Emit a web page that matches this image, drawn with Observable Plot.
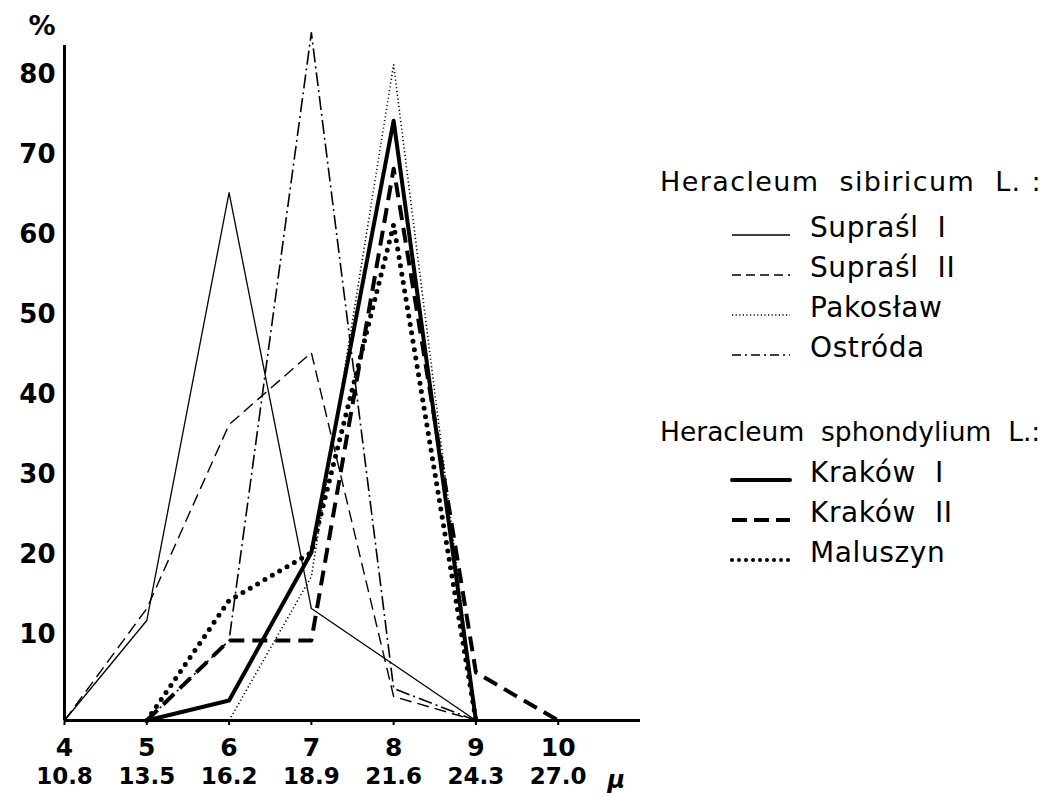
<!DOCTYPE html>
<html>
<head>
<meta charset="utf-8">
<script src="https://cdn.jsdelivr.net/npm/d3@7"></script>
<script src="https://cdn.jsdelivr.net/npm/@observablehq/plot@0.6"></script>
<style>
  html, body { margin: 0; padding: 0; background: #fff; }
  #wrap { position: relative; width: 1050px; height: 797px; overflow: hidden; }
  #legend { position: absolute; left: 0; top: 0; width: 1050px; height: 797px; pointer-events: none;
            font-family: "DejaVu Sans", sans-serif; color: #000; }
  .lg-head { position: absolute; left: 660px; font-size: 27px; letter-spacing: 1.4px; white-space: pre; line-height: 1; }
  .lg-head.tight { font-size: 26.5px; letter-spacing: 0; }
  .lg-item { position: absolute; left: 730px; height: 32px; display: flex; align-items: flex-end; white-space: pre; font-size: 28px; letter-spacing: 0.6px; line-height: 1; }
  .lg-item svg { margin-right: 18px; margin-bottom: 4px; }
</style>
</head>
<body>
<div id="wrap"><div id="legend"></div></div>
<script>
// ---- Data ----
const sizeClass = [4, 5, 6, 7, 8, 9, 10];
const micronLabels = ["10.8", "13.5", "16.2", "18.9", "21.6", "24.3", "27.0"];
const yTicks = [10, 20, 30, 40, 50, 60, 70, 80];

const supraslI_x = [4, 5, 6, 7, 8, 9];
const supraslI_y = [0, 12.5, 66, 14, 7, 0];
const supraslII_x = [4, 5, 6, 7, 8, 9];
const supraslII_y = [0, 14, 37, 46, 3, 0];
const pakoslaw_x = [6, 7, 8, 9];
const pakoslaw_y = [0, 18, 82, 0];
const ostroda_x = [5, 6, 7, 8, 9];
const ostroda_y = [0, 10, 86, 4, 0];
const krakowI_x = [5, 6, 7, 8, 9];
const krakowI_y = [0, 2.5, 21, 75, 0];
const krakowII_x = [5, 6, 7, 8, 9, 10];
const krakowII_y = [0, 10, 10, 69, 6, 0];
const maluszyn_x = [5, 6, 7, 8, 9];
const maluszyn_y = [0, 15, 21, 62, 0];

const group1 = "Heracleum  sibiricum  L. :";
const group2 = "Heracleum  sphondylium  L.:";

const seriesNames = ["Supraśl  I", "Supraśl  II", "Pakosław", "Ostróda", "Kraków  I", "Kraków  II", "Maluszyn"];
const seriesX = [supraslI_x, supraslII_x, pakoslaw_x, ostroda_x, krakowI_x, krakowII_x, maluszyn_x];
const seriesY = [supraslI_y, supraslII_y, pakoslaw_y, ostroda_y, krakowI_y, krakowII_y, maluszyn_y];

// line styles
const styles = [
  {strokeWidth: 1.3, strokeDasharray: null, strokeLinecap: "butt", legendDash: null},
  {strokeWidth: 1.4, strokeDasharray: "12,6", strokeLinecap: "butt", legendDash: "9,5"},
  {strokeWidth: 1.6, strokeDasharray: "1.2,2.6", strokeLinecap: "butt", legendDash: "1.2,2.4"},
  {strokeWidth: 1.6, strokeDasharray: "14,4,2,4", strokeLinecap: "butt", legendDash: "9,4,2,4"},
  {strokeWidth: 4, strokeDasharray: null, strokeLinecap: "round", legendDash: null},
  {strokeWidth: 4, strokeDasharray: "15,8", strokeLinecap: "butt", legendDash: "15,7"},
  {strokeWidth: 5, strokeDasharray: "0,8.5", strokeLinecap: "round", legendDash: "0,7"}
];

const rows = seriesNames.map((name, k) => seriesX[k].map((x, i) => ({series: name, x, y: seriesY[k][i]})));

const lineMarks = rows.map((data, k) => Plot.line(data, {
  x: "x", y: "y", stroke: "black",
  strokeWidth: styles[k].strokeWidth,
  strokeDasharray: styles[k].strokeDasharray || undefined,
  strokeLinecap: styles[k].strokeLinecap,
  strokeLinejoin: "round"
}));

const plot = Plot.plot({
  width: 1050,
  height: 797,
  marginLeft: 64,
  marginRight: 410,
  marginTop: 45,
  marginBottom: 77,
  style: {fontFamily: "DejaVu Sans, sans-serif", fontSize: "24px", color: "black", background: "white", overflow: "visible"},
  x: {domain: [4, 11]},
  y: {domain: [0, 84.4]},
  marks: [
    ...lineMarks,
    Plot.ruleX([4], {strokeWidth: 3}),
    Plot.ruleY([0], {strokeWidth: 3}),
    Plot.axisX(sizeClass, {tickSize: 5, tickPadding: 13, strokeWidth: 2, fontWeight: "bold", fontSize: 25, label: null}),
    Plot.axisX(sizeClass, {tickSize: 0, tickPadding: 47, fontWeight: "bold", fontSize: 23, label: null,
      tickFormat: d => micronLabels[sizeClass.indexOf(d)]}),
    Plot.axisY(yTicks, {tickSize: 0, tickPadding: 9, dy: -6, fontWeight: "bold", fontSize: 26, label: null}),
    Plot.text(["%"], {frameAnchor: "top-left", dx: -36, dy: -30, fontWeight: "bold", fontSize: 27}),
    Plot.text([10], {x: d => d, y: 0, text: ["μ"], dx: 58, dy: 60, fontSize: 24, fontStyle: "italic", fontWeight: "bold"})
  ]
});
document.getElementById("wrap").prepend(plot);
plot.style.position = "absolute";
plot.style.left = "0";
plot.style.top = "0";

// ---- Legend ----
const legend = document.getElementById("legend");
function head(text, top, extra) {
  const d = document.createElement("div");
  d.className = "lg-head" + (extra ? " " + extra : ""); d.style.top = top + "px"; d.textContent = text;
  legend.appendChild(d);
}
function item(k, top) {
  const d = document.createElement("div");
  d.className = "lg-item"; d.style.top = top + "px";
  const ns = "http://www.w3.org/2000/svg";
  const s = document.createElementNS(ns, "svg");
  s.setAttribute("width", 62); s.setAttribute("height", 8);
  const l = document.createElementNS(ns, "line");
  l.setAttribute("x1", 2); l.setAttribute("x2", 60); l.setAttribute("y1", 5); l.setAttribute("y2", 5);
  l.setAttribute("stroke", "black");
  l.setAttribute("stroke-width", Math.min(styles[k].strokeWidth, 4));
  if (styles[k].legendDash) l.setAttribute("stroke-dasharray", styles[k].legendDash);
  l.setAttribute("stroke-linecap", styles[k].strokeLinecap);
  s.appendChild(l);
  d.appendChild(s);
  const t = document.createElement("span"); t.textContent = seriesNames[k];
  d.appendChild(t);
  legend.appendChild(d);
}
head(group1, 168);
item(0, 210); item(1, 250); item(2, 290); item(3, 330);
head(group2, 419, "tight");
item(4, 455); item(5, 495); item(6, 535);
</script>
</body>
</html>
